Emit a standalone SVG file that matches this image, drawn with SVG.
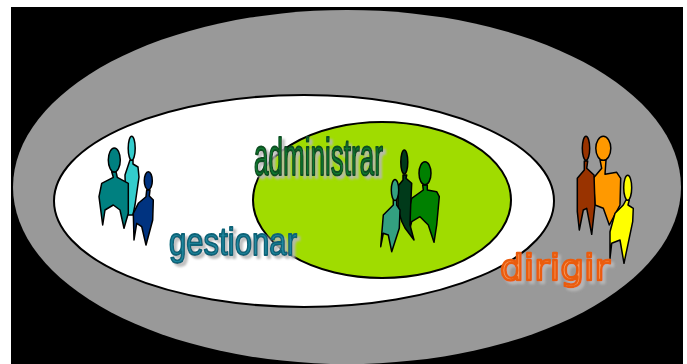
<svg xmlns="http://www.w3.org/2000/svg" width="687" height="364" viewBox="0 0 687 364">
<style>
.o{stroke:#000;stroke-width:1.5;stroke-linejoin:round}
.e{stroke:#000;stroke-width:2}
.t{font-family:"Liberation Sans","DejaVu Sans",sans-serif;stroke-linejoin:round;filter:url(#sh)}
</style>
<defs>
<filter id="sh" x="-10%" y="-20%" width="120%" height="140%">
<feDropShadow dx="3" dy="3" stdDeviation="0.8" flood-color="#b8b8b8" flood-opacity="0.9"/>
</filter>
</defs>
<rect x="0" y="0" width="687" height="364" fill="#fff"/>
<rect x="11" y="7" width="672" height="357" fill="#000"/>
<g id="outer"><ellipse cx="347" cy="187" rx="334" ry="177" fill="#999"/></g>
<g id="gestionar-ellipse"><ellipse class="e" cx="304" cy="201" rx="250" ry="106" fill="#fff"/></g>
<g id="administrar-ellipse"><ellipse class="e" cx="382" cy="200" rx="129" ry="78" fill="#a0dc00"/></g>
<g id="group-gestionar">
<g fill="#33cccc"><path class="o" d="M130 160L133 160L133 164L138 167L139 177L135 205L133 215L126 215L125 175Z"/><ellipse class="o" cx="131.700" cy="148.300" rx="3.500" ry="12"/></g>
<g fill="#008080"><path class="o" d="M111.700 171.700L116 171.700L117.300 177.300L128.300 183.300L128.300 213.300L124 228.300L120 210L113.300 205L105 210L102.700 225L99 196.700L101.700 183.300L113.300 177.300Z"/><ellipse class="o" cx="114.300" cy="160" rx="6" ry="12"/></g>
<g fill="#003380"><path class="o" d="M146.700 190L150 190L149.300 196L153.300 200L152.700 220L146 245L141.700 226.700L136.700 223.300L134 240L133.300 213.300L138.300 203.300L146 196.700Z"/><ellipse class="o" cx="148.300" cy="180.700" rx="4" ry="9"/></g>
</g>
<g id="group-administrar">
<g fill="#008000"><path class="o" d="M422.700 185L427.300 185L427.300 190L436.700 191.700L439.300 196.700L436.700 225L434 242.300L428.300 225L420 216.700L411.700 221.700L410 228L410 205L411.700 198.300L423.300 190Z"/><ellipse class="o" cx="425" cy="173.300" rx="6" ry="11.500"/></g>
<g fill="#003a1a"><path class="o" d="M403 175L406.700 175L406 178.300L411.700 183.300L410.700 205L410 225L414 240L405 228L402 222L398 210L398 186L403 180Z"/><ellipse class="o" cx="404.300" cy="162" rx="3.500" ry="12"/></g>
<g fill="#33a080"><path class="o" d="M393.300 200L396.700 200L396.700 205L400 210L399.300 228.300L391.700 251.700L388.300 235L383.300 233.300L380.700 246.700L383.300 215L393.300 205Z"/><ellipse class="o" cx="395" cy="190" rx="3.700" ry="10.500"/></g>
</g>
<g id="group-dirigir">
<g fill="#ff9900"><path class="o" d="M600 160L606 160L605 174.300L616.700 172.300L620.700 178.300L620 205L609.300 225L603.300 208.300L595 205L593.300 178.300L601.700 168.300Z"/><ellipse class="o" cx="603.300" cy="148.300" rx="7.500" ry="12"/></g>
<g fill="#993300"><path class="o" d="M584.300 161L587.700 161L586.700 168.300L594 175L595 205L591.700 234.300L586.700 208.300L583.300 210L579.300 230L577.300 211.700L577.300 178.300L584.300 170Z"/><ellipse class="o" cx="586" cy="148.300" rx="3.700" ry="12"/></g>
<g fill="#ffff00"><path class="o" d="M626 200L629.300 200L628 205L633.300 208.300L632.700 221.700L624 263.300L620 240L611.700 243.300L610 258.300L610 231.700L615 213.300L623.300 205Z"/><ellipse class="o" cx="627.700" cy="187.700" rx="4" ry="12.500"/></g>
</g>
<g id="labels">
<text class="t" x="254" y="175" font-size="51" fill="#0f7a30" stroke="#0a4f20" stroke-width="2.200" textLength="129" lengthAdjust="spacingAndGlyphs">administrar</text>
<text class="t" x="169" y="255" font-size="38" fill="#2088a0" stroke="#0f6478" stroke-width="1.800" textLength="128" lengthAdjust="spacingAndGlyphs">gestionar</text>
<text class="t" x="500" y="280" font-size="36" fill="#f79a5c" stroke="#ea5c10" stroke-width="2.400" style="font-family:'DejaVu Sans',sans-serif" textLength="110" lengthAdjust="spacingAndGlyphs">dirigir</text>
</g>
</svg>
